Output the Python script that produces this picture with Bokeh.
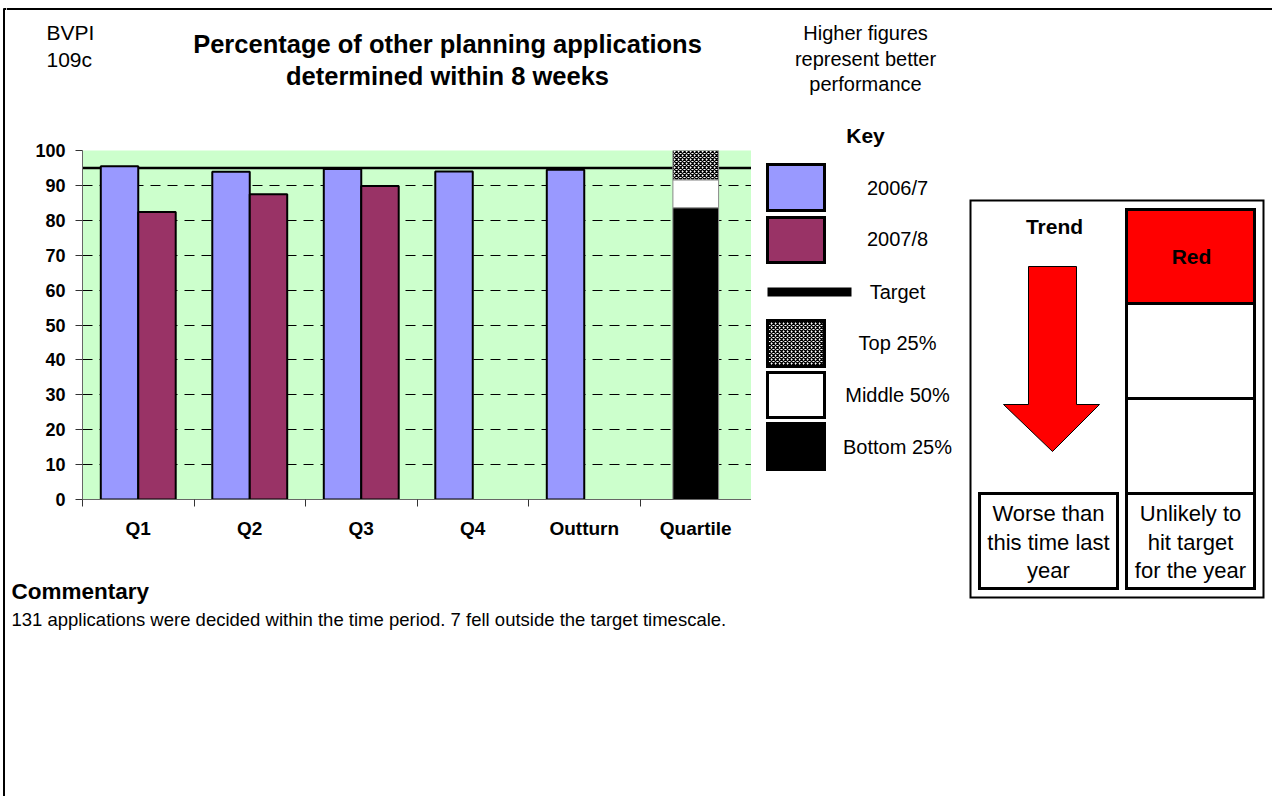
from bokeh.plotting import figure
from bokeh.layouts import row, column
from bokeh.models import FixedTicker, Span, Range1d, CustomJSTickFormatter
from bokeh.core.properties import value
from bokeh.embed import file_html
from bokeh.resources import INLINE

# ---------------- data ----------------
categories = ["Q1", "Q2", "Q3", "Q4", "Outturn", "Quartile"]
series_2006 = [95.5, 93.9, 94.7, 94.0, 94.5]     # Q1, Q2, Q3, Q4, Outturn
series_2007 = [82.4, 87.5, 89.8]                 # Q1, Q2, Q3
target = 95
quartile_edges = [0, 83.6, 91.6, 100]            # bottom 25% | middle 50% | top 25%
y_ticks = list(range(0, 101, 10))
legend_labels = ["2006/7", "2007/8", "Target", "Top 25%", "Middle 50%", "Bottom 25%"]

BLUE = "#9999FF"
PLUM = "#993366"
GREEN = "#CCFFCC"
RED = "#FF0000"
FONT = "Liberation Sans"
CHECKER = dict(hatch_pattern="diagonal_cross", hatch_color="black",
               hatch_scale=4, hatch_weight=1.3)


# ---------------- helpers for decoration panels (pixel coordinates) ----------------
def deco(x0, x1, y0, y1):
    f = figure(width=x1 - x0, height=y1 - y0, x_range=Range1d(x0, x1), y_range=Range1d(y1, y0),
               output_backend="svg", toolbar_location=None, min_border=0,
               x_axis_type=None, y_axis_type=None)
    f.outline_line_color = None
    f.background_fill_color = "white"
    f.border_fill_color = "white"
    return f


def text(f, x, y, s, size, bold=False, align="center"):
    f.text(x=[x], y=[y], text=[s], text_font=value(FONT), text_font_size=f"{size}px",
           text_font_style="bold" if bold else "normal", text_align=align,
           text_baseline="middle", text_color="black")


def box(f, l, t, r, b, fill="white", lw=3, line="black", **kw):
    f.quad(left=[l], right=[r], top=[t], bottom=[b], fill_color=fill,
           line_color=line, line_width=lw, line_join="miter", **kw)


# ---------------- left strip (page frame) ----------------
strip = deco(0, 6, 0, 796)
strip.segment(x0=[3.5], y0=[8], x1=[3.5], y1=[796], line_color="black", line_width=2)
strip.segment(x0=[3], y0=[8.5], x1=[6], y1=[8.5], line_color="black", line_width=2)

# ---------------- header ----------------
header = deco(6, 1272, 0, 125)
header.segment(x0=[6], y0=[8.5], x1=[1272], y1=[8.5], line_color="black", line_width=2)
text(header, 46, 32, "BVPI", 21, align="left")
text(header, 46, 59, "109c", 21, align="left")
text(header, 447, 43, "Percentage of other planning applications", 25.5, bold=True)
text(header, 447, 75, "determined within 8 weeks", 25.5, bold=True)
text(header, 865, 32, "Higher figures", 20)
text(header, 865, 58, "represent better", 20)
text(header, 865, 83, "performance", 20)

# ---------------- bar chart ----------------
p = figure(width=745, height=435, x_range=Range1d(0, 6), y_range=Range1d(0, 100),
           output_backend="svg", toolbar_location=None,
           min_border_left=76, min_border_right=0, min_border_top=25, min_border_bottom=61)
p.background_fill_color = GREEN
p.border_fill_color = "white"
p.outline_line_color = None

p.xgrid.visible = False
p.ygrid.ticker = FixedTicker(ticks=y_ticks[1:])
p.ygrid.grid_line_color = "black"
p.ygrid.grid_line_dash = "10 7"
p.ygrid.grid_line_width = 1

ya = p.yaxis[0]
ya.ticker = FixedTicker(ticks=y_ticks)
ya.major_label_text_font = FONT
ya.major_label_text_font_style = "bold"
ya.major_label_text_font_size = "18px"
ya.major_label_text_color = "black"
ya.major_tick_in = 0
ya.major_tick_out = 7
ya.minor_tick_line_color = None
ya.axis_line_color = "#666666"
ya.major_tick_line_color = "#333333"
ya.major_label_standoff = 10

xa = p.xaxis[0]
xa.ticker = FixedTicker(ticks=[i + 0.5 for i in range(len(categories))],
                        minor_ticks=list(range(len(categories) + 1)))
xa.formatter = CustomJSTickFormatter(args=dict(names=categories),
                                     code="return names[Math.floor(tick)] || ''")
xa.major_tick_line_color = None
xa.major_tick_in = 0
xa.major_tick_out = 0
xa.minor_tick_in = 0
xa.minor_tick_out = 7
xa.minor_tick_line_color = "#333333"
xa.axis_line_color = "#666666"
xa.major_label_text_font = FONT
xa.major_label_text_font_style = "bold"
xa.major_label_text_font_size = "19px"
xa.major_label_text_color = "black"
xa.major_label_standoff = 11

p.add_layout(Span(location=target, dimension="width", line_color="black",
                  line_width=2.5, level="underlay"))

BW = 0.336
x06 = [i + 0.5 - BW / 2 for i in range(len(series_2006))]
x07 = [i + 0.5 + BW / 2 for i in range(len(series_2007))]
p.vbar(x=x06, top=series_2006, bottom=0, width=BW, fill_color=BLUE,
       line_color="black", line_width=2)
p.vbar(x=x07, top=series_2007, bottom=0, width=BW, fill_color=PLUM,
       line_color="black", line_width=2)

qx = categories.index("Quartile") + 0.5
QW = 0.41
p.vbar(x=[qx], bottom=[quartile_edges[0]], top=[quartile_edges[1]], width=QW,
       fill_color="black", line_color="#888888", line_width=1)
p.vbar(x=[qx], bottom=[quartile_edges[1]], top=[quartile_edges[2]], width=QW,
       fill_color="white", line_color="#888888", line_width=1)
p.vbar(x=[qx], bottom=[quartile_edges[2]], top=[quartile_edges[3]], width=QW,
       fill_color="white", line_color="#888888", line_width=1, **CHECKER)

# ---------------- commentary ----------------
comm = deco(6, 751, 560, 650)
text(comm, 11, 591, "Commentary", 22.5, bold=True, align="left")
text(comm, 11, 619, "131 applications were decided within the time period. 7 fell outside the target timescale.",
     18.5, align="left")

# ---------------- key + trend panel ----------------
right = deco(751, 1272, 125, 650)
text(right, 865, 135, "Key", 21, bold=True)
box(right, 767, 164, 824, 210, BLUE)
box(right, 767, 217, 824, 262, PLUM)
box(right, 767, 287, 851, 296, "black", lw=0, line=None)
box(right, 767, 320, 824, 366, "white", **CHECKER)
box(right, 767, 372, 824, 417, "white")
box(right, 767, 423, 824, 469, "black")
for lbl, yy in zip(legend_labels, [187, 238, 291, 342, 394, 446]):
    text(right, 897, yy, lbl, 20)

box(right, 970, 200, 1263, 597, None, lw=2)
box(right, 1126, 209, 1254, 303, RED)
box(right, 1126, 303, 1254, 398, "white")
box(right, 1126, 398, 1254, 493, "white")
box(right, 1126, 493, 1254, 588, "white")
box(right, 979, 493, 1117, 588, "white")
text(right, 1054, 226, "Trend", 21, bold=True)
text(right, 1191, 256, "Red", 21, bold=True)
right.patch(x=[1028, 1076, 1076, 1099, 1052, 1003, 1028],
            y=[266, 266, 404, 404, 451, 404, 404],
            fill_color=RED, line_color="black", line_width=1)
for s, yy in zip(["Worse than", "this time last", "year"], [513, 542, 570]):
    text(right, 1048, yy, s, 22)
for s, yy in zip(["Unlikely to", "hit target", "for the year"], [513, 542, 570]):
    text(right, 1190, yy, s, 22)

layout = row(strip, column(header, row(column(p, row(comm)), right)))
open("out.html", "w").write(file_html(layout, INLINE))
